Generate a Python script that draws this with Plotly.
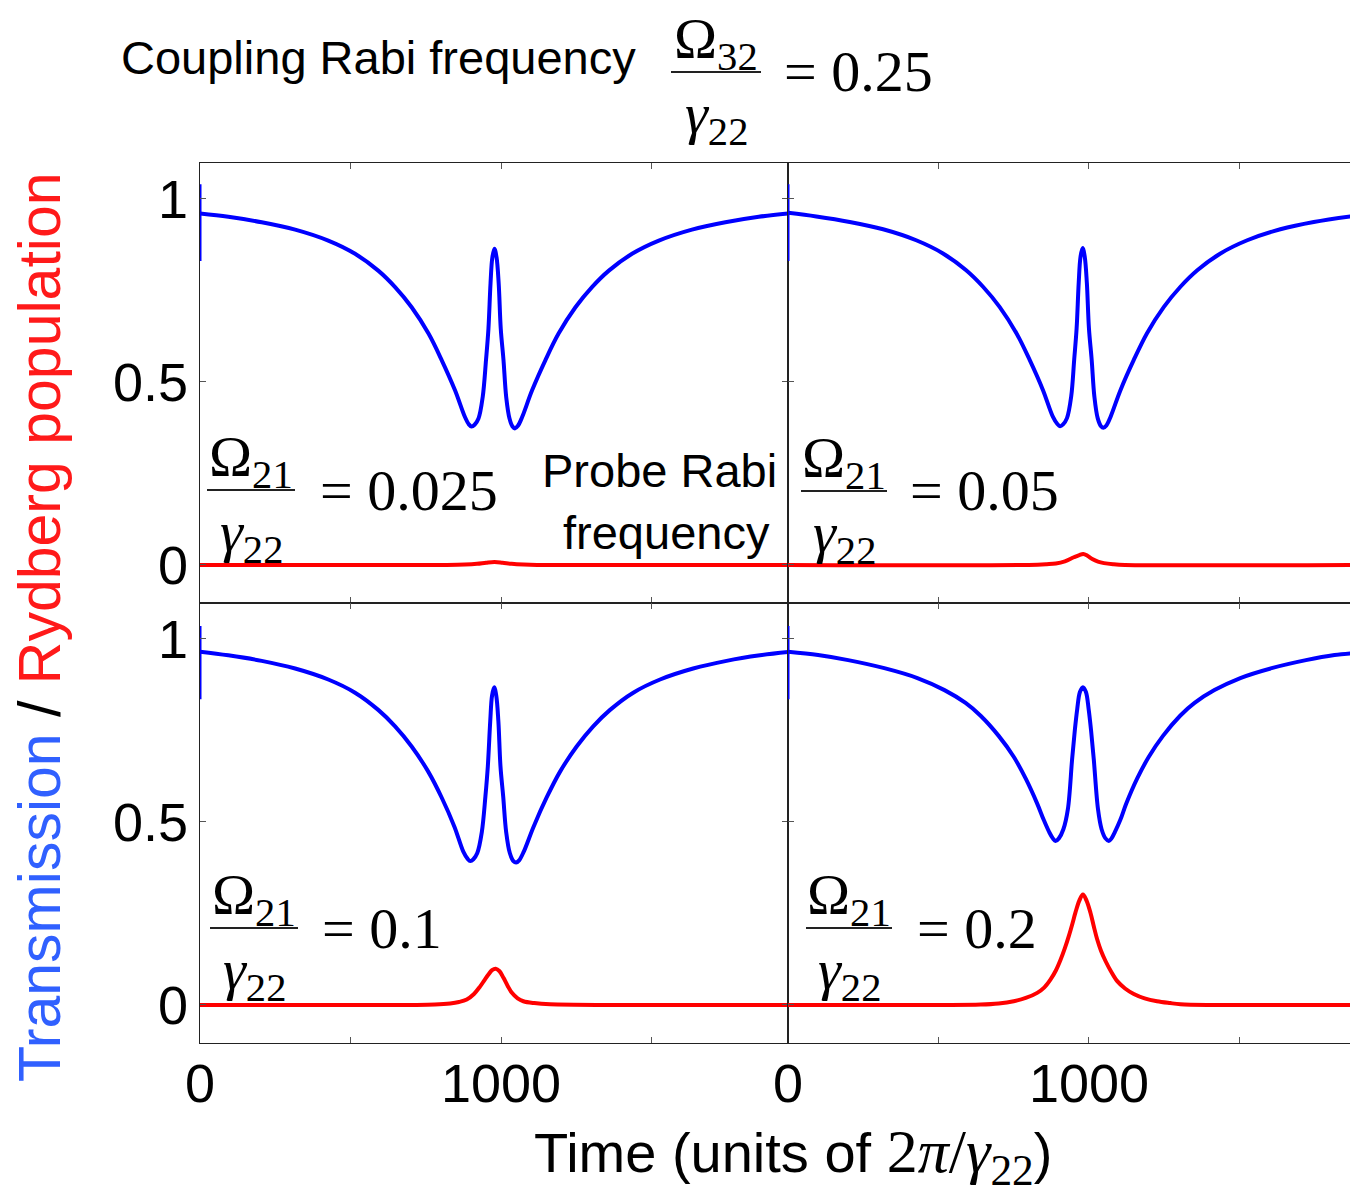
import plotly.graph_objects as go
from plotly.subplots import make_subplots

# ---------------- data ----------------
# Panel: top-left, probe Rabi frequency 0.025
t_tl = [0, 94, 205, 316, 426, 515, 592, 648, 703, 759, 803, 847, 880, 893, 902, 912, 925, 939, 950, 958,
        965, 971, 978, 985, 992, 999, 1008, 1017, 1028, 1038, 1046, 1056, 1070, 1103, 1147, 1191, 1247, 1302,
        1358, 1435, 1524, 1634, 1745, 1856, 1953]
trans_tl = [0.960, 0.951, 0.936, 0.916, 0.886, 0.850, 0.804, 0.759, 0.704, 0.632, 0.559, 0.477, 0.404, 0.384,
            0.378, 0.383, 0.400, 0.459, 0.560, 0.645, 0.770, 0.840, 0.864, 0.840, 0.770, 0.645, 0.560, 0.459,
            0.400, 0.378, 0.373, 0.380, 0.404, 0.477, 0.559, 0.632, 0.704, 0.759, 0.804, 0.850, 0.886, 0.916,
            0.936, 0.951, 0.960]
tr_tl = [0, 820, 880, 920, 950, 978, 1005, 1035, 1075, 1120, 1953]
ryd_tl = [0.0, 0.0, 0.001, 0.003, 0.006, 0.008, 0.006, 0.003, 0.001, 0.0, 0.0]

# Panel: top-right, probe Rabi frequency 0.05
t_tr = [0, 94, 205, 316, 426, 515, 592, 648, 703, 759, 803, 847, 880, 895, 904, 914, 927, 941, 951, 959,
        966, 972, 979, 986, 993, 1000, 1009, 1018, 1029, 1040, 1048, 1058, 1072, 1105, 1149, 1193, 1249, 1304,
        1360, 1437, 1526, 1636, 1747, 1894]
trans_tr = [0.962, 0.952, 0.937, 0.917, 0.887, 0.851, 0.805, 0.760, 0.705, 0.633, 0.560, 0.478, 0.405, 0.385,
            0.379, 0.384, 0.401, 0.460, 0.561, 0.646, 0.771, 0.842, 0.866, 0.842, 0.771, 0.646, 0.561, 0.460,
            0.401, 0.379, 0.375, 0.381, 0.405, 0.478, 0.560, 0.633, 0.705, 0.760, 0.805, 0.851, 0.887, 0.917,
            0.937, 0.955]
tr_tr = [0, 800, 860, 890, 920, 950, 968, 981, 995, 1011, 1030, 1050, 1080, 1120, 1894]
ryd_tr = [0.0, 0.0, 0.002, 0.004, 0.010, 0.021, 0.027, 0.030, 0.025, 0.016, 0.009, 0.005, 0.002, 0.0, 0.0]

# Panel: bottom-left, probe Rabi frequency 0.1
t_bl = [0, 94, 205, 316, 426, 515, 592, 648, 703, 759, 803, 845, 875, 889, 898, 908, 921, 936, 948, 956,
        964, 970, 977, 984, 991, 998, 1007, 1017, 1029, 1041, 1050, 1060, 1075, 1108, 1151, 1195, 1251, 1306,
        1362, 1439, 1528, 1638, 1749, 1860, 1953]
trans_bl = [0.965, 0.955, 0.940, 0.919, 0.889, 0.853, 0.806, 0.761, 0.706, 0.636, 0.566, 0.487, 0.418, 0.399,
            0.393, 0.398, 0.415, 0.472, 0.570, 0.652, 0.775, 0.845, 0.868, 0.845, 0.775, 0.652, 0.570, 0.472,
            0.415, 0.393, 0.389, 0.395, 0.418, 0.487, 0.566, 0.636, 0.706, 0.761, 0.806, 0.853, 0.889, 0.919,
            0.940, 0.955, 0.964]
tr_bl = [0, 700, 780, 831, 860, 886, 910, 930, 945, 958, 970, 982, 995, 1008, 1022, 1036, 1055, 1074, 1110,
         1163, 1953]
ryd_bl = [0.0, 0.0, 0.001, 0.004, 0.008, 0.015, 0.030, 0.050, 0.068, 0.083, 0.095, 0.099, 0.092, 0.074,
          0.052, 0.033, 0.018, 0.010, 0.005, 0.002, 0.0]

# Panel: bottom-right, probe Rabi frequency 0.2
t_br = [0, 100, 200, 320, 430, 520, 590, 640, 700, 750, 790, 828, 850, 868, 880, 889, 900, 915, 930, 944,
        953, 961, 970, 980, 990, 999, 1007, 1016, 1030, 1042, 1055, 1066, 1075, 1086, 1104, 1124, 1160, 1199,
        1246, 1303, 1351, 1417, 1503, 1607, 1721, 1816, 1894]
trans_br = [0.965, 0.956, 0.942, 0.920, 0.893, 0.860, 0.825, 0.790, 0.735, 0.678, 0.618, 0.550, 0.505, 0.472,
            0.455, 0.448, 0.455, 0.480, 0.535, 0.671, 0.750, 0.808, 0.855, 0.868, 0.855, 0.808, 0.750, 0.671,
            0.535, 0.480, 0.455, 0.448, 0.455, 0.472, 0.505, 0.550, 0.618, 0.678, 0.735, 0.790, 0.825, 0.860,
            0.893, 0.920, 0.942, 0.956, 0.962]
tr_br = [0, 500, 640, 700, 750, 790, 828, 852, 872, 890, 906, 920, 933, 945, 955, 968, 980, 992, 1005, 1016,
         1027, 1040, 1055, 1073, 1094, 1120, 1149, 1185, 1226, 1270, 1304, 1400, 1894]
ryd_br = [0.0, 0.0, 0.001, 0.004, 0.010, 0.019, 0.033, 0.048, 0.069, 0.094, 0.124, 0.155, 0.188, 0.222, 0.252,
          0.285, 0.302, 0.285, 0.252, 0.215, 0.180, 0.148, 0.120, 0.092, 0.065, 0.045, 0.030, 0.018, 0.010,
          0.005, 0.002, 0.0, 0.0]

# initial transient spike at t = 0 (lower / upper end)
spike_t = [0, 0]
spike_tl = [0.83, 1.04]
spike_tr = [0.83, 1.04]
spike_bl = [0.835, 1.035]
spike_br = [0.835, 1.035]

probe_labels = ["0.025", "0.05", "0.1", "0.2"]
coupling_label = "0.25"
x_tickvals = [0, 500, 1000, 1500]
x_ticktext = ["0", "", "1000", ""]
y_tickvals = [0, 0.5, 1]
y_ticktext = ["0", "0.5", "1"]
x_max = [1953, 1894]

# ---------------- figure ----------------
OFF = 8                      # page body margin of the html page
W, H = 1358 - OFF, 1193 - OFF
L, R, T, B = 200 - OFF, 0, 163 - OFF, 150
fig = make_subplots(rows=2, cols=2, horizontal_spacing=0, vertical_spacing=0,
                    column_widths=[588, 570])

BLUE = "#0000ff"
RED = "#ff0000"
panels = [
    (1, 1, t_tl, trans_tl, tr_tl, ryd_tl, spike_tl),
    (1, 2, t_tr, trans_tr, tr_tr, ryd_tr, spike_tr),
    (2, 1, t_bl, trans_bl, tr_bl, ryd_bl, spike_bl),
    (2, 2, t_br, trans_br, tr_br, ryd_br, spike_br),
]
for (r, c, tb, vb, trd, vr, sp) in panels:
    fig.add_trace(go.Scatter(x=trd, y=vr, mode="lines",
                             line=dict(color=RED, width=4, shape="spline", smoothing=1.0),
                             showlegend=False, hoverinfo="skip"), row=r, col=c)
    fig.add_trace(go.Scatter(x=tb, y=vb, mode="lines",
                             line=dict(color=BLUE, width=4, shape="spline", smoothing=1.0),
                             showlegend=False, hoverinfo="skip"), row=r, col=c)
    fig.add_trace(go.Scatter(x=spike_t, y=sp, mode="lines",
                             line=dict(color=BLUE, width=3),
                             showlegend=False, hoverinfo="skip"), row=r, col=c)

tickfont = dict(family="Liberation Sans, Arial, sans-serif", size=54, color="black")
for r in (1, 2):
    for c in (1, 2):
        fig.update_xaxes(range=[0, x_max[c - 1]], tickvals=x_tickvals, ticktext=x_ticktext,
                         ticks="inside", ticklen=6, tickwidth=1, tickcolor="#555",
                         showline=True, linecolor="#222", linewidth=1.2, mirror="ticks",
                         showgrid=False, zeroline=False, tickfont=tickfont,
                         ticklabelstandoff=-7,
                         showticklabels=(r == 2), row=r, col=c)
        fig.update_yaxes(range=[-0.104, 1.098], tickvals=y_tickvals, ticktext=y_ticktext,
                         ticks="inside", ticklen=6, tickwidth=1, tickcolor="#555",
                         showline=True, linecolor="#222", linewidth=1.2,
                         mirror=("ticks" if c == 1 else False),
                         showgrid=False, zeroline=False, tickfont=tickfont,
                         showticklabels=(c == 1), row=r, col=c)


def ax(x):
    return (x - OFF - L) / (W - L - R)


def ay(y):
    return (H - B - (y - OFF)) / (H - T - B)


SANS = "Liberation Sans, Arial, sans-serif"
SERIF = "Liberation Serif, Times New Roman, serif"
annotations = []
shapes = []


def text(x, y, s, size, family=SANS, color="black", xanchor="center", angle=0):
    annotations.append(dict(x=ax(x), y=ay(y), xref="paper", yref="paper", text=s, showarrow=False,
                            xanchor=xanchor, yanchor="middle", textangle=angle,
                            font=dict(family=family, size=size, color=color)))


def fraction(xc, ybar, half, num, den, rhs, rhs_x, size=58):
    text(xc, ybar - 30, num, size, SERIF)
    text(xc, ybar + 45, den, size, SERIF)
    shapes.append(dict(type="line", xref="paper", yref="paper",
                       x0=ax(xc - half), x1=ax(xc + half), y0=ay(ybar), y1=ay(ybar),
                       line=dict(color="#222", width=2)))
    text(rhs_x, ybar, rhs, size, SERIF, xanchor="left")


# top title
text(378, 57, "Coupling Rabi frequency", 47)
fraction(716, 72, 45, "Ω<sub>32</sub>", "<i>γ</i><sub>22</sub>", "= " + coupling_label, 782)

# panel labels
fraction(251, 490, 44, "Ω<sub>21</sub>", "<i>γ</i><sub>22</sub>", "= " + probe_labels[0], 318)
fraction(844, 491, 43, "Ω<sub>21</sub>", "<i>γ</i><sub>22</sub>", "= " + probe_labels[1], 908)
fraction(254, 928, 44, "Ω<sub>21</sub>", "<i>γ</i><sub>22</sub>", "= " + probe_labels[2], 320)
fraction(849, 928, 43, "Ω<sub>21</sub>", "<i>γ</i><sub>22</sub>", "= " + probe_labels[3], 915)

text(659, 470, "Probe Rabi", 47)
text(666, 532, "frequency", 47)

# axis titles
text(793, 1155,
     "Time (units of <span style='font-family:Liberation Serif;font-size:62px'>2<i>π</i>/<i>γ</i><sub>22</sub></span>)",
     56)
text(40, 627, "<span style='color:#3060ff'>Transmission</span> / <span style='color:#ff1a1a'>Rydberg population</span>",
     59, angle=-90)

fig.update_layout(width=W, height=H, margin=dict(l=L, r=R, t=T, b=B, pad=0),
                  plot_bgcolor="white", paper_bgcolor="white",
                  annotations=annotations, shapes=shapes, showlegend=False)

fig.write_html("out.html")
